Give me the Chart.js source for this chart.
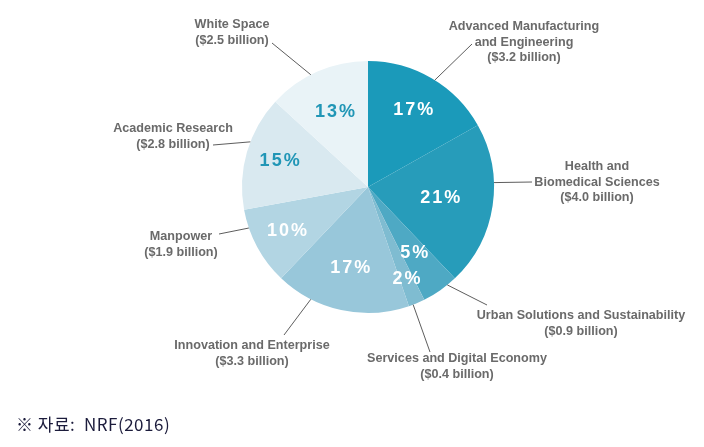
<!DOCTYPE html>
<html>
<head>
<meta charset="utf-8">
<script src="https://cdn.jsdelivr.net/npm/chart.js@4"></script>
<style>
    html, body { margin: 0; padding: 0; background: #fff; }
    #wrap { position: relative; width: 704px; height: 447px; }
</style>
</head>
<body>
<div id="wrap"><canvas id="fundChart"></canvas></div>
<script>
const categories = [
    ["Advanced Manufacturing", "and Engineering"],
    ["Health and", "Biomedical Sciences"],
    ["Urban Solutions and Sustainability"],
    ["Services and Digital Economy"],
    ["Innovation and Enterprise"],
    ["Manpower"],
    ["Academic Research"],
    ["White Space"]
];
const budgets = [3.2, 4.0, 0.9, 0.4, 3.3, 1.9, 2.8, 2.5]; // $ billion
const sliceColors = ["#1b9aba", "#279cba", "#4ea9c4", "#7fbcd1", "#98c7da", "#b2d5e3", "#d9e9f0", "#e9f3f7"];
const pctColors = ["#ffffff", "#ffffff", "#ffffff", "#ffffff", "#ffffff", "#ffffff", "#2196b6", "#2196b6"];
const sourceNote = "※ 자료:  NRF(2016)";

// label layout: text centre, first line y, leader line end near text, angle (deg from top) where line meets pie, pct label radius factor
const labelLayout = [
    { x: 524, y: 27, lx: 472, ly: 44, a: 32, pr: 0.71 },
    { x: 597, y: 167, lx: 532, ly: 182, a: 88, pr: 0.58 },
    { x: 581, y: 316, lx: 487, ly: 305, a: 141, pr: 0.64 },
    { x: 457, y: 359, lx: 430, ly: 352, a: 159, pr: 0.79 },
    { x: 252, y: 346, lx: 284, ly: 335, a: 207, pr: 0.66 },
    { x: 181, y: 237, lx: 219, ly: 234, a: 251, pr: 0.73 },
    { x: 173, y: 129, lx: 213, ly: 145, a: 291, pr: 0.73 },
    { x: 232, y: 25, lx: 272, ly: 43, a: 333, pr: 0.65 }
];

const labelPlugin = {
    id: 'pieLabels',
    afterDatasetsDraw(chart) {
        const ctx = chart.ctx;
        const arcs = chart.getDatasetMeta(0).data;
        const total = budgets.reduce((s, v) => s + v, 0);
        ctx.save();
        arcs.forEach((arc, i) => {
            const p = arc.getProps(['x', 'y', 'startAngle', 'endAngle', 'outerRadius'], true);
            const mid = (p.startAngle + p.endAngle) / 2;
            const L = labelLayout[i];
            // percentage inside slice
            const r = p.outerRadius * L.pr;
            ctx.font = 'bold 18px "Liberation Sans", Arial, sans-serif';
            ctx.letterSpacing = '2px';
            ctx.fillStyle = pctColors[i];
            ctx.textAlign = 'center';
            ctx.textBaseline = 'middle';
            ctx.fillText(Math.round(budgets[i] / total * 100) + '%', p.x + r * Math.cos(mid) + 1, p.y + r * Math.sin(mid));
            // leader line
            const ang = (L.a - 90) * Math.PI / 180;
            ctx.strokeStyle = '#333';
            ctx.lineWidth = 0.8;
            ctx.beginPath();
            ctx.moveTo(p.x + p.outerRadius * Math.cos(ang), p.y + p.outerRadius * Math.sin(ang));
            ctx.lineTo(L.lx, L.ly);
            ctx.stroke();
            // category text
            ctx.letterSpacing = '0px';
            ctx.font = 'bold 12.6px "Liberation Sans", Arial, sans-serif';
            ctx.fillStyle = '#6a6a6a';
            const lines = categories[i].concat(['($' + budgets[i].toFixed(1) + ' billion)']);
            lines.forEach((t, k) => ctx.fillText(t, L.x, L.y + k * 15.5));
        });
        ctx.textAlign = 'left';
        ctx.font = '17px "Noto Sans CJK KR", sans-serif';
        ctx.letterSpacing = '0.5px';
        ctx.fillStyle = '#1c1c3c';
        ctx.fillText(sourceNote, 16, 425);
        ctx.restore();
    }
};

function createFundChart() {
    const ctx = document.getElementById('fundChart').getContext('2d');
    new Chart(ctx, {
        type: 'pie',
        data: {
            labels: categories.map(c => c.join(' ')),
            datasets: [{
                data: budgets,
                backgroundColor: sliceColors,
                borderWidth: 0
            }]
        },
        options: {
            responsive: true,
            maintainAspectRatio: false,
            animation: false,
            layout: { padding: { top: 61, bottom: 134, left: 242, right: 210 } },
            plugins: {
                legend: { display: false },
                tooltip: { enabled: false }
            }
        },
        plugins: [labelPlugin]
    });
}

document.addEventListener("DOMContentLoaded", function() {
    createFundChart();
});
</script>
</body>
</html>
